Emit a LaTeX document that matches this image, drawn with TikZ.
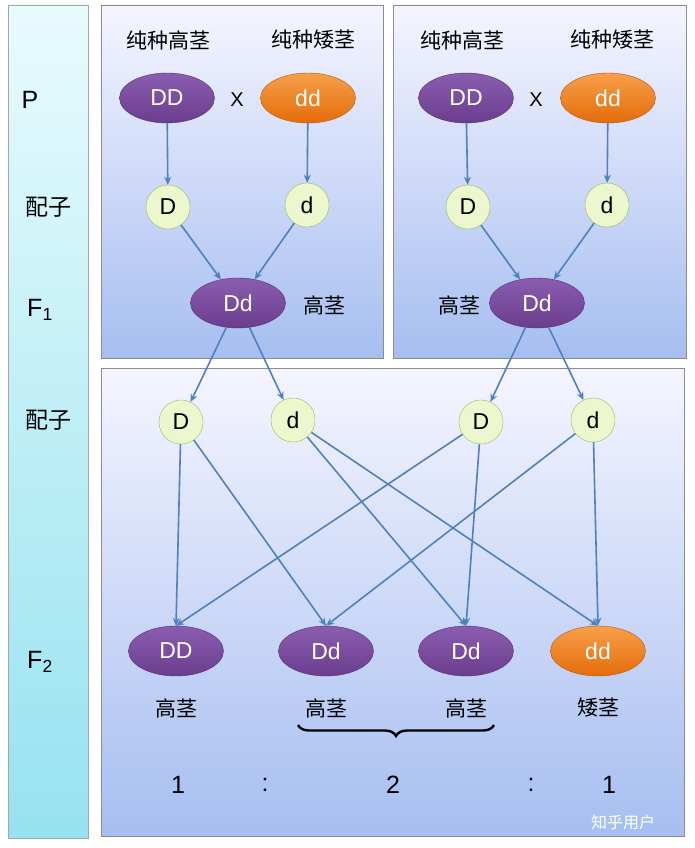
\documentclass[tikz,border=0pt]{standalone}
\usepackage{fontspec}
\setmainfont{Liberation Sans}
\newfontfamily\cjk{Noto Sans CJK SC}
\usetikzlibrary{shapes.geometric,decorations.pathreplacing,arrows.meta}
\definecolor{arr}{HTML}{4F81BD}
\definecolor{purp}{HTML}{6A3D8E}
\definecolor{purpl}{HTML}{8A5DB0}
\definecolor{ora}{HTML}{E46C0A}
\definecolor{oral}{HTML}{F7A04A}
\tikzset{
 x=1pt,y=-1pt,
 panel/.style={draw=black!45,top color=blue!4!white,bottom color={rgb,255:red,166;green,190;blue,240}},
 pe/.style={ellipse,minimum width=95pt,minimum height=50pt,inner sep=0pt,draw=purp!80!black,top color=purpl,bottom color=purp,text=white,font=\fontsize{23}{23}\selectfont},
 oe/.style={ellipse,minimum width=95pt,minimum height=50pt,inner sep=0pt,draw=ora!80!black,top color=oral,bottom color=ora,text=white,font=\fontsize{23}{23}\selectfont},
 gc/.style={circle,minimum size=44pt,inner sep=0pt,draw={rgb,255:red,155;green,187;blue,89},fill={rgb,255:red,236;green,247;blue,205},font=\fontsize{23}{23}\selectfont},
 lab/.style={font=\cjk\fontsize{21}{21}\selectfont},
 big/.style={font=\fontsize{25}{25}\selectfont},
 ar/.style={draw=arr,line width=1.6pt,-{Stealth[length=8pt,width=7pt]}}
}
\begin{document}
\begin{tikzpicture}
\useasboundingbox (0,0) rectangle (694,848);
\fill[white] (0,0) rectangle (694,848);
\draw[draw=black!35,top color={rgb,255:red,232;green,251;blue,253},bottom color={rgb,255:red,150;green,226;blue,240}] (8,5) rectangle (88,838);
\draw[panel] (101,5) rectangle (383,358);
\draw[panel] (393,5) rectangle (686,358);
\draw[panel] (101,368) rectangle (684,836);
% left labels
\node[big] (lP) at (30,100) {P};
\node[lab,font=\cjk\fontsize{23}{23}\selectfont] (lg1) at (48,207) {配子};
\node[big] (lF1) at (40,310) {F\textsubscript{1}};
\node[lab,font=\cjk\fontsize{23}{23}\selectfont] (lg2) at (48,420) {配子};
\node[big] (lF2) at (40,662) {F\textsubscript{2}};
% top left
\node[lab] (t1) at (168,40) {纯种高茎};
\node[lab] (t2) at (313,40) {纯种矮茎};
\node[pe] (aDD) at (167,98) {DD};
\node[font=\fontsize{20}{20}\selectfont] (ax) at (237,100) {X};
\node[oe] (add) at (308,98) {dd};
\node[gc] (aD) at (168,207) {D};
\node[gc] (ad) at (307,205) {d};
\node[pe] (aDd) at (238,303) {Dd};
\node[lab] (ah) at (324,305) {高茎};
% top right
\node[lab] (t3) at (462,40) {纯种高茎};
\node[lab] (t4) at (612,40) {纯种矮茎};
\node[pe] (bDD) at (466,98) {DD};
\node[font=\fontsize{20}{20}\selectfont] (bx) at (536,100) {X};
\node[oe] (bdd) at (608,98) {dd};
\node[gc] (bD) at (468,207) {D};
\node[gc] (bd) at (607,205) {d};
\node[pe] (bDd) at (537,303) {Dd};
\node[lab] (bh) at (459,305) {高茎};
% gametes
\node[gc] (g1) at (181,422) {D};
\node[gc] (g2) at (293,420) {d};
\node[gc] (g3) at (481,422) {D};
\node[gc] (g4) at (593,420) {d};
% F2
\node[pe] (f1) at (176,651) {DD};
\node[pe] (f2) at (326,651) {Dd};
\node[pe] (f3) at (466,651) {Dd};
\node[oe] (f4) at (598,651) {dd};
\node[lab] (h1) at (176,708) {高茎};
\node[lab] (h2) at (326,708) {高茎};
\node[lab] (h3) at (466,708) {高茎};
\node[lab] (h4) at (598,708) {矮茎};
\coordinate (bl) at (298,725);
\coordinate (br) at (494,725);
\draw[line width=2.4pt,decorate,decoration={brace,mirror,amplitude=11pt}] (bl) -- (br);
\node[big] (r1) at (178,785) {1};
\node[big] (c1) at (265,785) {:};
\node[big] (r2) at (393,785) {2};
\node[big] (c2) at (531,785) {:};
\node[big] (r3) at (609,785) {1};
\node[font=\cjk\fontsize{16}{16}\selectfont,text=white] (wm) at (623,822) {知乎用户};
% arrows
\draw[ar] (aDD) -- (aD); \draw[ar] (add) -- (ad);
\draw[ar] (aD) -- (aDd); \draw[ar] (ad) -- (aDd);
\draw[ar] (bDD) -- (bD); \draw[ar] (bdd) -- (bd);
\draw[ar] (bD) -- (bDd); \draw[ar] (bd) -- (bDd);
\draw[ar] (aDd) -- (g1); \draw[ar] (aDd) -- (g2);
\draw[ar] (bDd) -- (g3); \draw[ar] (bDd) -- (g4);
\draw[ar] (g1) -- (f1.north); \draw[ar] (g1) -- (f2.north);
\draw[ar] (g2) -- (f3.north); \draw[ar] (g2) -- (f4.north);
\draw[ar] (g3) -- (f1.north); \draw[ar] (g3) -- (f3.north);
\draw[ar] (g4) -- (f2.north); \draw[ar] (g4) -- (f4.north);
\end{tikzpicture}
\end{document}
